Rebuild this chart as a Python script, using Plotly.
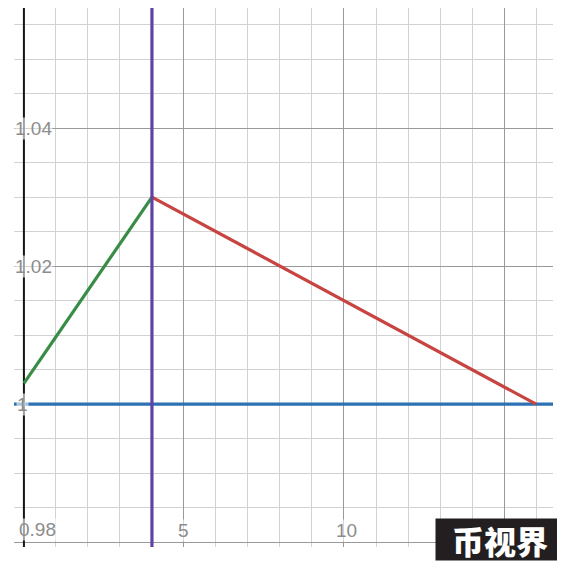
import plotly.graph_objects as go

GREEN  = "#388c46"
RED    = "#c74440"
BLUE   = "#2d70b3"
PURPLE = "#6042a6"
LABEL  = "#8c8c8c"

# series
green_x = [0, 4]
green_y = [1.003, 1.03]
red_x = [4, 16]
red_y = [1.03, 1.0]
blue_y = 1.0        # horizontal line
purple_x = 4        # vertical line

x_range = [-0.31, 16.53]
y_range = [0.9793, 1.0574]

x_tick_vals = [5, 10]
x_tick_text = ["5", "10"]
y_tick_vals = [1.04, 1.02, 1.0, 0.98]
y_tick_text = ["1.04", "1.02", "1", "0.98"]

LABEL_FONT = dict(size=19, color=LABEL, family="Liberation Sans")
LABEL_BG = "rgba(255,255,255,0.6)"

fig = go.Figure()

# y axis line (x = 0)
fig.add_trace(go.Scatter(x=[0, 0], y=y_range, mode="lines",
                         line=dict(color="#151515", width=2), hoverinfo="skip"))
fig.add_trace(go.Scatter(x=x_range, y=[blue_y, blue_y], mode="lines",
                         line=dict(color=BLUE, width=3.2)))
fig.add_trace(go.Scatter(x=green_x, y=green_y, mode="lines",
                         line=dict(color=GREEN, width=3.2)))
fig.add_trace(go.Scatter(x=red_x, y=red_y, mode="lines",
                         line=dict(color=RED, width=3.2)))
fig.add_trace(go.Scatter(x=[purple_x, purple_x], y=y_range, mode="lines",
                         line=dict(color=PURPLE, width=3.2)))

annotations = []
for v, t in zip(y_tick_vals, y_tick_text):
    if t == "0.98":
        anc, shift, yanc = "left", -6, "bottom"
    elif t == "1":
        anc, shift, yanc = "center", -1, "middle"
    else:
        anc, shift, yanc = "left", -10, "middle"
    annotations.append(dict(x=0, y=v, text=t, xref="x", yref="y", xanchor=anc,
                            yanchor=yanc, xshift=shift, yshift=1 if yanc == "bottom" else 0,
                            showarrow=False, font=LABEL_FONT, bgcolor=LABEL_BG, borderpad=0))
for v, t in zip(x_tick_vals, x_tick_text):
    annotations.append(dict(x=v, y=y_range[0], text=t, xref="x", yref="y",
                            xanchor="center", yanchor="bottom", yshift=5,
                            xshift=0 if len(t) == 1 else 3, showarrow=False,
                            font=LABEL_FONT, bgcolor=LABEL_BG, borderpad=0))

# watermark
annotations.append(dict(x=1, y=0, xref="paper", yref="paper", xanchor="right", yanchor="bottom",
                        text="币视界", showarrow=False, xshift=12, yshift=-14,
                        font=dict(size=32, color="white", family="Noto Sans CJK SC", weight=900),
                        bgcolor="#231f20", borderpad=0, width=128, height=41))

# page body has an 8px margin, so the figure is sized to fit the rest of the window
fig.update_layout(
    width=557, height=553,
    margin=dict(l=6, r=12, t=0, b=14),
    paper_bgcolor="white", plot_bgcolor="white",
    showlegend=False,
    annotations=annotations,
)
fig.update_xaxes(range=x_range, showticklabels=False, ticks="", zeroline=False,
                 tick0=0, dtick=5, showgrid=True, gridcolor="#999999", gridwidth=1,
                 minor=dict(dtick=1, tick0=0, showgrid=True, gridcolor="#d2d2d2", gridwidth=1))
fig.update_yaxes(range=y_range, showticklabels=False, ticks="", zeroline=False,
                 tick0=1, dtick=0.02, showgrid=True, gridcolor="#999999", gridwidth=1,
                 minor=dict(dtick=0.005, tick0=1, showgrid=True, gridcolor="#d2d2d2", gridwidth=1))

fig.write_html("out.html")
